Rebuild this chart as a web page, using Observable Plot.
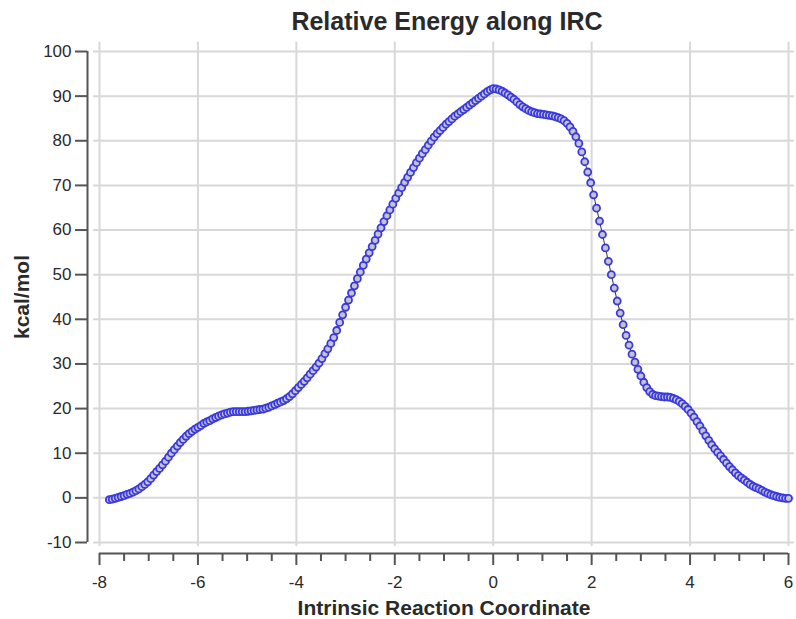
<!DOCTYPE html>
<html><head><meta charset="utf-8">
<script src="https://cdn.jsdelivr.net/npm/d3@7"></script>
<script src="https://cdn.jsdelivr.net/npm/@observablehq/plot@0.6"></script>
<style>body{margin:0;background:#fff}</style>
</head><body><div id="chart"></div>
<script>
// Reverse branch of the IRC (toward reactant), x in IRC units, energy in kcal/mol
const ircReverse = [-7.80,-7.74,-7.68,-7.62,-7.56,-7.50,-7.44,-7.38,-7.32,-7.26,-7.20,-7.14,-7.08,-7.02,-6.96,-6.90,-6.84,-6.78,-6.72,-6.66,-6.60,-6.54,-6.48,-6.42,-6.36,-6.30,-6.24,-6.18,-6.12,-6.06,-6.00,-5.94,-5.88,-5.82,-5.76,-5.70,-5.64,-5.58,-5.52,-5.46,-5.40,-5.34,-5.28,-5.22,-5.16,-5.10,-5.04,-4.98,-4.92,-4.86,-4.80,-4.74,-4.68,-4.62,-4.56,-4.50,-4.44,-4.38,-4.32,-4.26,-4.20,-4.14,-4.08,-4.02,-3.96,-3.90,-3.84,-3.78,-3.72,-3.66,-3.60,-3.54,-3.48,-3.42,-3.36,-3.30,-3.24,-3.18,-3.12,-3.06,-3.00,-2.94,-2.88,-2.82,-2.76,-2.70,-2.64,-2.58,-2.52,-2.46,-2.40,-2.34,-2.28,-2.22,-2.16,-2.10,-2.04,-1.98,-1.92,-1.86,-1.80,-1.74,-1.68,-1.62,-1.56,-1.50,-1.44,-1.38,-1.32,-1.26,-1.20,-1.14,-1.08,-1.02,-0.96,-0.90,-0.84,-0.78,-0.72,-0.66,-0.60,-0.54,-0.48,-0.42,-0.36,-0.30,-0.24,-0.18,-0.12,-0.06];
const energyReverse = [-0.4,-0.3,-0.1,0.1,0.3,0.5,0.8,1.0,1.3,1.6,2.0,2.5,3.0,3.6,4.3,5.1,5.9,6.6,7.4,8.2,9.1,10.0,10.8,11.6,12.4,13.1,13.8,14.4,14.9,15.4,15.8,16.2,16.7,17.0,17.3,17.7,18.0,18.3,18.6,18.8,19.0,19.2,19.3,19.3,19.3,19.3,19.3,19.4,19.5,19.6,19.7,19.8,19.9,20.1,20.3,20.6,20.9,21.2,21.5,21.8,22.2,22.7,23.3,24.0,24.7,25.4,26.1,26.9,27.7,28.5,29.3,30.2,31.2,32.3,33.4,34.6,35.9,37.5,39.3,41.0,42.7,44.3,45.9,47.5,49.1,50.6,52.1,53.5,54.9,56.3,57.7,59.1,60.5,61.9,63.2,64.5,65.8,67.1,68.3,69.5,70.7,71.8,72.9,74.0,75.1,76.1,77.1,78.0,79.0,79.9,80.8,81.6,82.3,83.0,83.7,84.3,84.9,85.5,86.0,86.5,87.0,87.5,88.0,88.5,89.0,89.5,90.0,90.5,91.0,91.4];
// Forward branch (from TS toward product)
const ircForward = [0.00,0.06,0.12,0.18,0.24,0.30,0.36,0.42,0.48,0.54,0.60,0.66,0.72,0.78,0.84,0.90,0.96,1.02,1.08,1.14,1.20,1.26,1.32,1.38,1.44,1.50,1.56,1.62,1.68,1.74,1.80,1.86,1.92,1.98,2.04,2.10,2.16,2.22,2.28,2.34,2.40,2.46,2.52,2.58,2.64,2.70,2.76,2.82,2.88,2.94,3.00,3.06,3.12,3.18,3.24,3.30,3.36,3.42,3.48,3.54,3.60,3.66,3.72,3.78,3.84,3.90,3.96,4.02,4.08,4.14,4.20,4.26,4.32,4.38,4.44,4.50,4.56,4.62,4.68,4.74,4.80,4.86,4.92,4.98,5.04,5.10,5.16,5.22,5.28,5.34,5.40,5.46,5.52,5.58,5.64,5.70,5.76,5.82,5.88,5.94,6.00];
const energyForward = [91.7,91.6,91.4,91.1,90.7,90.3,89.8,89.3,88.7,88.1,87.6,87.2,86.8,86.5,86.3,86.1,86.0,85.9,85.8,85.7,85.6,85.4,85.2,84.9,84.5,83.9,83.1,82.1,80.9,79.4,77.5,75.3,73.0,70.6,67.9,64.9,62.0,59.0,56.0,53.0,50.0,47.0,44.1,41.4,38.8,36.4,34.2,32.2,30.4,28.8,27.3,25.9,24.7,23.8,23.2,22.9,22.8,22.7,22.6,22.6,22.5,22.3,22.0,21.6,21.1,20.5,19.8,19.0,18.1,17.1,16.1,15.0,13.9,12.9,11.9,11.0,10.2,9.4,8.6,7.8,7.0,6.3,5.6,5.0,4.5,4.0,3.5,3.0,2.6,2.3,2.0,1.7,1.3,1.0,0.7,0.5,0.3,0.1,0.0,-0.1,-0.1];

const xTicks = [-8,-6,-4,-2,0,2,4,6];
const xMinorTicks = [-7.5,-7,-6.5,-5.5,-5,-4.5,-3.5,-3,-2.5,-1.5,-1,-0.5,0.5,1,1.5,2.5,3,3.5,4.5,5,5.5];
const yTicks = [-10,0,10,20,30,40,50,60,70,80,90,100];

const titleText = "Relative Energy along IRC";
const xLabel = "Intrinsic Reaction Coordinate";
const yLabel = "kcal/mol";

const points = [
  ...ircReverse.map((x, i) => ({x, e: energyReverse[i]})),
  ...ircForward.map((x, i) => ({x, e: energyForward[i]}))
];

const gridColor = "#d8d8d8";
const axisColor = "#555";
const textColor = "#2a2a2a";
const plainFormat = d => String(d);

const chart = Plot.plot({
  width: 796,
  height: 619,
  marginTop: 51,
  marginBottom: 77,
  marginLeft: 99,
  marginRight: 8,
  x: {domain: [-8, 6]},
  y: {domain: [-10, 100]},
  style: {fontFamily: "Arial, 'Liberation Sans', sans-serif", fontSize: "17px", background: "#fff", overflow: "visible"},
  marks: [
    Plot.ruleX(xTicks, {y1: -10.9, y2: 102.1, stroke: gridColor, strokeWidth: 2}),
    Plot.ruleY(yTicks, {x1: -8.12, x2: 6.12, stroke: gridColor, strokeWidth: 2}),
    Plot.ruleX([-8], {y1: -10, y2: 100, dx: -12, stroke: axisColor, strokeWidth: 2}),
    Plot.ruleY([-10], {x1: -8, x2: 6, dy: 11, stroke: axisColor, strokeWidth: 2}),
    Plot.axisY({ticks: yTicks, tickSize: 12, tickPadding: 4, dx: -12, tickFormat: plainFormat, stroke: axisColor, strokeWidth: 2, fill: textColor, label: null}),
    Plot.axisX({ticks: xTicks, tickSize: 12, tickPadding: 10, dy: 11, tickFormat: plainFormat, stroke: axisColor, strokeWidth: 2, fill: textColor, label: null}),
    Plot.axisX({ticks: xMinorTicks, tickSize: 8, tickFormat: () => "", dy: 11, stroke: axisColor, strokeWidth: 2, label: null}),
    Plot.line(points, {x: "x", y: "e", stroke: "#333", strokeWidth: 1}),
    Plot.dot(points, {x: "x", y: "e", r: 3.5, fill: "#c4c4c8", stroke: "#3838e4", strokeWidth: 1.8}),
    Plot.text([titleText], {text: d => d, frameAnchor: "top", lineAnchor: "middle", textAnchor: "middle", dx: 3, dy: -30, fontSize: 25, fontWeight: "bold", fill: textColor}),
    Plot.text([xLabel], {text: d => d, frameAnchor: "bottom", lineAnchor: "middle", textAnchor: "middle", dy: 66, fontSize: 21, fontWeight: "bold", fill: textColor}),
    Plot.text([yLabel], {text: d => d, frameAnchor: "left", lineAnchor: "middle", textAnchor: "middle", dx: -77, rotate: -90, fontSize: 21, fontWeight: "bold", fill: textColor})
  ]
});
document.getElementById("chart").appendChild(chart);
</script>
</body></html>
